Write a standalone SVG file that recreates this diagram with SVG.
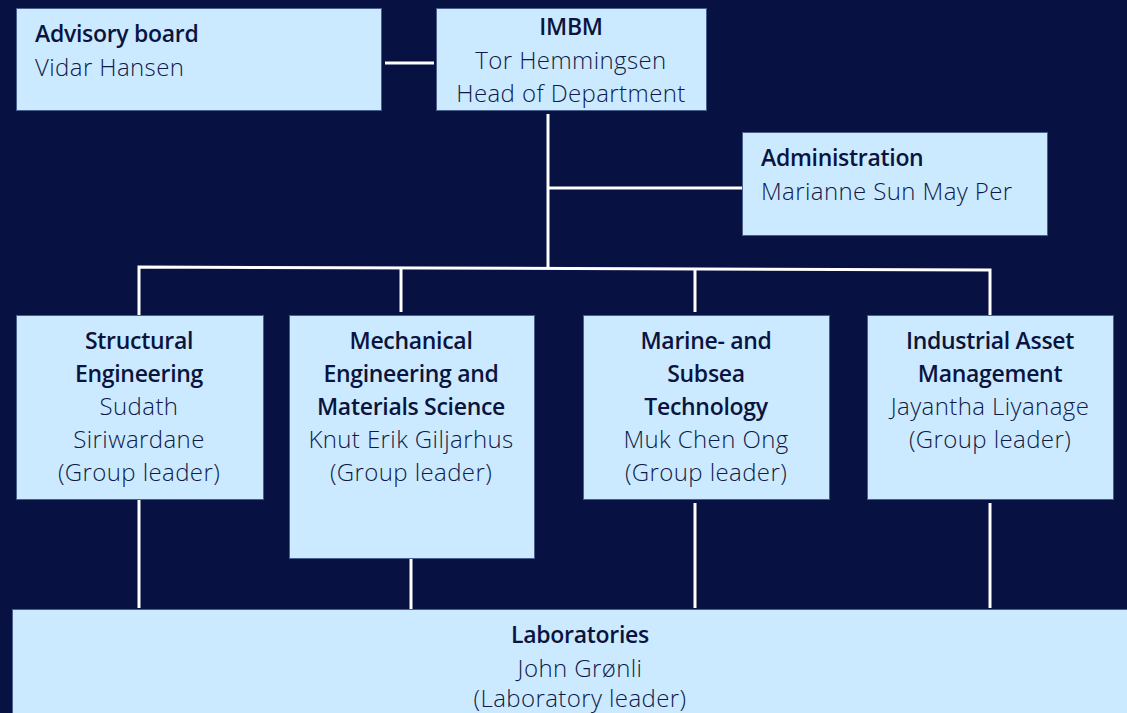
<svg xmlns="http://www.w3.org/2000/svg" width="1127" height="713" viewBox="0 0 1127 713">
<style>
.box{fill:#cceaff;stroke:#4a5f8f;stroke-width:1}
.h{font-family:"Open Sans","Liberation Sans",sans-serif;font-weight:600;font-size:23px;letter-spacing:-0.3px;fill:#0a1440}
.b{font-family:"Open Sans","Liberation Sans",sans-serif;font-weight:300;font-size:24px;letter-spacing:0.4px;fill:#0f1a48}
.c{text-anchor:middle}
.ln{stroke:#ffffff;stroke-width:3;fill:none}
</style>
<rect x="0" y="0" width="1127" height="713" fill="#071142"/>
<g id="connectors">
<line class="ln" x1="385" y1="63" x2="434" y2="63"/>
<line class="ln" x1="548" y1="114" x2="548" y2="268"/>
<line class="ln" x1="548" y1="188" x2="744" y2="188"/>
<polyline class="ln" points="139,315 139,267 990,270 990,315"/>
<line class="ln" x1="401" y1="268" x2="401" y2="312"/>
<line class="ln" x1="695" y1="269" x2="695" y2="312"/>
<line class="ln" x1="139" y1="498" x2="139" y2="608"/>
<line class="ln" x1="411" y1="559" x2="411" y2="611"/>
<line class="ln" x1="695" y1="503" x2="695" y2="608"/>
<line class="ln" x1="990" y1="503" x2="990" y2="608"/>
</g>
<g id="advisory">
<rect class="box" x="16.5" y="8.5" width="365" height="102"/>
<text class="h" x="35" y="42">Advisory board</text>
<text class="b" x="35" y="76">Vidar Hansen</text>
</g>
<g id="imbm">
<rect class="box" x="436.5" y="8.5" width="270" height="102"/>
<text class="h c" x="571" y="35">IMBM</text>
<text class="b c" x="571" y="69">Tor Hemmingsen</text>
<text class="b c" x="571" y="102">Head of Department</text>
</g>
<g id="administration">
<rect class="box" x="742.5" y="132.5" width="305" height="103"/>
<text class="h" x="761" y="166">Administration</text>
<text class="b" x="761" y="200">Marianne Sun May Per</text>
</g>
<g id="structural">
<rect class="box" x="16.5" y="315.5" width="247" height="184"/>
<text class="h c" x="139" y="349">Structural</text>
<text class="h c" x="139" y="382">Engineering</text>
<text class="b c" x="139" y="415">Sudath</text>
<text class="b c" x="139" y="448">Siriwardane</text>
<text class="b c" x="139" y="481">(Group leader)</text>
</g>
<g id="mechanical">
<rect class="box" x="289.5" y="315.5" width="245" height="243"/>
<text class="h c" x="411" y="349">Mechanical</text>
<text class="h c" x="411" y="382">Engineering and</text>
<text class="h c" x="411" y="415">Materials Science</text>
<text class="b c" x="411" y="448">Knut Erik Giljarhus</text>
<text class="b c" x="411" y="481">(Group leader)</text>
</g>
<g id="marine">
<rect class="box" x="583.5" y="315.5" width="246" height="184"/>
<text class="h c" x="706" y="349">Marine- and</text>
<text class="h c" x="706" y="382">Subsea</text>
<text class="h c" x="706" y="415">Technology</text>
<text class="b c" x="706" y="448">Muk Chen Ong</text>
<text class="b c" x="706" y="481">(Group leader)</text>
</g>
<g id="industrial">
<rect class="box" x="867.5" y="315.5" width="246" height="184"/>
<text class="h c" x="990" y="349">Industrial Asset</text>
<text class="h c" x="990" y="382">Management</text>
<text class="b c" x="990" y="415">Jayantha Liyanage</text>
<text class="b c" x="990" y="448">(Group leader)</text>
</g>
<g id="laboratories">
<rect class="box" x="12.5" y="609.5" width="1120" height="110"/>
<text class="h c" x="580" y="643">Laboratories</text>
<text class="b c" x="580" y="677">John Grønli</text>
<text class="b c" x="580" y="707">(Laboratory leader)</text>
</g>
</svg>
